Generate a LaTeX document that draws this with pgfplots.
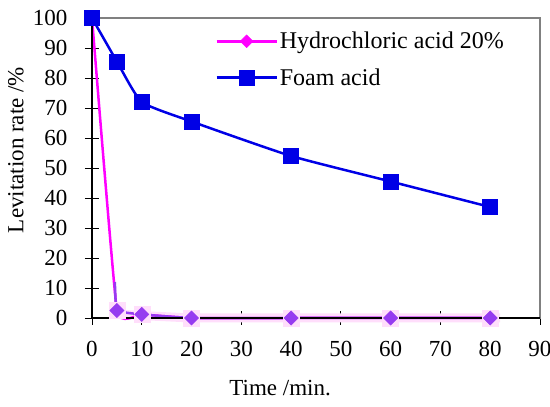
\documentclass[border=0pt]{standalone}
\usepackage{pgfplots}
\pgfplotsset{compat=1.18}
\usepackage{fontspec}
\setmainfont{Liberation Serif}
\definecolor{grayframe}{RGB}{128,128,128}
\definecolor{hcl}{RGB}{255,0,255}
\definecolor{hclpurple}{RGB}{150,60,240}
\definecolor{glow}{RGB}{255,222,251}
\definecolor{foam}{RGB}{0,0,230}
\begin{document}
\begin{tikzpicture}
\path[use as bounding box] (-92pt,-89pt) rectangle (458pt,318pt);
\begin{axis}[
  at={(0pt,0pt)}, anchor=south west,
  scale only axis, width=448pt, height=300pt,
  xmin=0, xmax=90, ymin=0, ymax=100,
  xtick={0,10,...,90}, ytick={0,10,...,100},
  xtick pos=bottom, ytick pos=left,
  axis line style={grayframe, line width=1.5pt},
  tick style={black, line width=0.8pt},
  major tick length=14pt, tick align=center,
  xticklabel shift=13pt,
  yticklabel shift=14pt,
  ticklabel style={font=\fontsize{23}{26}\selectfont},
  /pgf/number format/assume math mode=true,
  xlabel={Time /min.}, ylabel={Levitation rate /\%},
  label style={font=\fontsize{23}{26}\selectfont},
  xlabel style={at={(axis description cs:0.42,-0.233)}, anchor=center},
  ylabel style={at={(axis description cs:-0.17,0.56)}, anchor=center},
  legend style={draw=none, fill=none, at={(axis description cs:0.275,0.96)}, anchor=north west,
    font=\fontsize{24}{27}\selectfont, row sep=14pt, cells={anchor=west}, inner sep=0pt},
  legend image code/.code={\draw[mark repeat=2, mark phase=2, #1] plot coordinates {(0pt,0pt) (30pt,0pt) (60pt,0pt)};},
  clip=false,
]
% glow under HCl low points
\addplot[glow, line width=9pt, forget plot] coordinates {(4,1.5) (10,0.8) (20,0) (40,0) (60,0) (82,0)};
\addplot[glow, only marks, mark=square*, mark size=8pt, forget plot] coordinates {(5,2.5) (10,1.2) (20,0) (40,0) (60,0) (80,0)};
\addplot[smooth, tension=0.2, hcl, line width=2.5pt, mark=square*, mark size=4.5pt, mark options={fill=hcl, draw=hcl, line width=0.5pt, rotate=45}]
  coordinates {(0,100) (5,2.5) (10,1.2) (20,0) (40,0) (60,0) (80,0)};
\addlegendentry{Hydrochloric acid 20\%}
\addplot[smooth, tension=0.3, foam, line width=2.5pt, mark=square*, mark size=7.5pt, mark options={fill=foam, draw=foam, line width=0.5pt}]
  coordinates {(0,100) (5,85.5) (10,72) (20,65.5) (40,54) (60,45.5) (80,37)};
\addlegendentry{Foam acid}
\addplot[smooth, tension=0.2, hclpurple, line width=2.5pt, mark=square*, mark size=5pt, mark indices={2,...,7}, mark options={fill=hclpurple, draw=hclpurple, line width=0.5pt, rotate=45}, forget plot]
  coordinates {(4.6,12) (5,2.5) (10,1.2) (20,0) (40,0) (60,0) (80,0)};
\draw[black, line width=1.5pt] (rel axis cs:0,1) -- (rel axis cs:0,0) -- (rel axis cs:1,0);
\end{axis}
\end{tikzpicture}
\end{document}
